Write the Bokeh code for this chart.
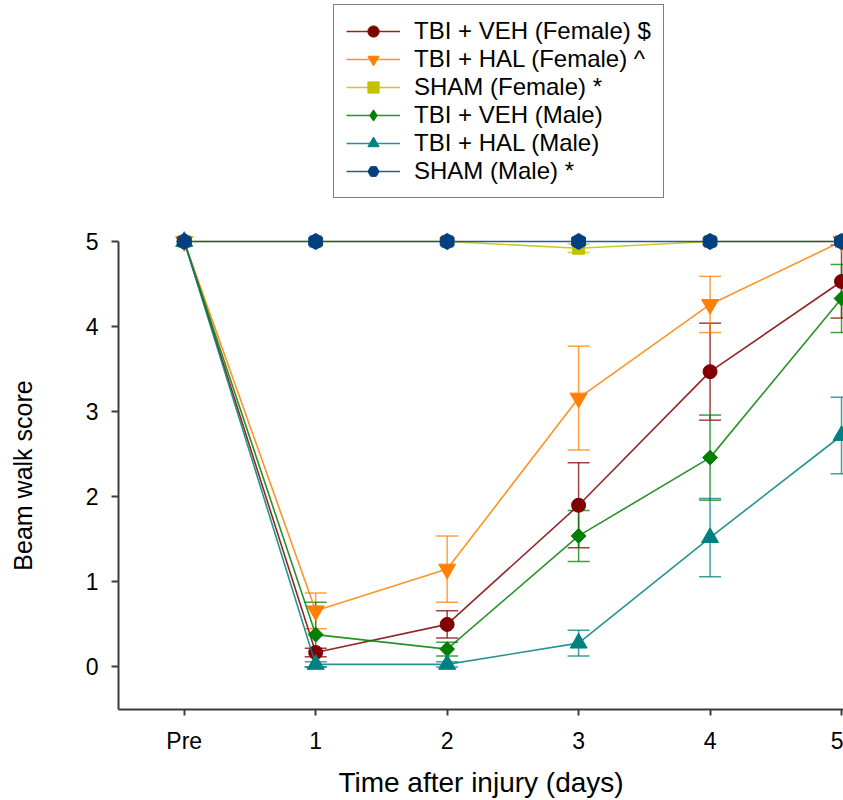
import numpy as np
from bokeh.plotting import figure
from bokeh.layouts import row
from bokeh.models import (Range1d, FixedTicker, Whisker, TeeHead, ColumnDataSource,
                          Legend, LegendItem)
from bokeh.core.properties import value
from bokeh.embed import file_html
from bokeh.resources import INLINE

# Days after injury (0 = pre-injury baseline)
days = [0, 1, 2, 3, 4, 5]
day_labels = ["Pre", "1", "2", "3", "4", "5"]

# Mean beam walk score and SEM per group
veh_female = [5.0, 0.17, 0.50, 1.90, 3.47, 4.53]
veh_female_sem = [0.0, 0.05, 0.16, 0.50, 0.57, 0.43]

hal_female = [5.0, 0.66, 1.15, 3.16, 4.26, 5.0]
hal_female_sem = [0.0, 0.21, 0.39, 0.61, 0.33, 0.0]

sham_female = [5.0, 5.0, 5.0, 4.92, 5.0, 5.0]
sham_female_sem = [0.0, 0.0, 0.0, 0.05, 0.0, 0.0]

veh_male = [5.0, 0.38, 0.21, 1.54, 2.46, 4.33]
veh_male_sem = [0.0, 0.38, 0.08, 0.30, 0.50, 0.40]

hal_male = [5.0, 0.03, 0.03, 0.28, 1.52, 2.72]
hal_male_sem = [0.0, 0.03, 0.03, 0.15, 0.46, 0.45]

sham_male = [5.0, 5.0, 5.0, 5.0, 5.0, 5.0]
sham_male_sem = [0.0, 0.0, 0.0, 0.0, 0.0, 0.0]

FONT = "Liberation Sans"
HEIGHT = 800
TITLE_STRIP = 44          # narrow strip on the left holding the y-axis title
SPINE = (-0.5, 5)         # extent of the drawn y-axis line

# label, means, sem, colour, marker, size, angle, marker used for the legend swatch
groups = [
    ("TBI + VEH (Female) $", veh_female, veh_female_sem, "#800000", "circle", 14, 0.0, None),
    ("TBI + HAL (Female) ^", hal_female, hal_female_sem, "#FF8000", "inverted_triangle", 17, 0.0, None),
    ("SHAM (Female) *", sham_female, sham_female_sem, "#C2C200", "square", 12, 0.0, None),
    ("TBI + VEH (Male)", veh_male, veh_male_sem, "#008000", "square", 10.5, np.pi / 4, "diamond"),
    ("TBI + HAL (Male)", hal_male, hal_male_sem, "#008080", "triangle", 17, 0.0, None),
    ("SHAM (Male) *", sham_male, sham_male_sem, "#003F80", "hex", 16, np.pi / 2, None),
]

p = figure(width=843 - TITLE_STRIP, height=HEIGHT,
           x_range=Range1d(-0.5, 5.015), y_range=Range1d(-0.5, 7.832),
           output_backend="svg", toolbar_location=None,
           min_border_left=118 - TITLE_STRIP, min_border_right=0,
           min_border_top=0, min_border_bottom=91)

p.outline_line_color = None
p.xgrid.grid_line_color = None
p.ygrid.grid_line_color = None
p.background_fill_color = "white"
p.border_fill_color = "white"

items = []
for label, vals, sem, color, marker, size, angle, swatch in groups:
    keep = [i for i, e in enumerate(sem) if e > 0]
    if keep:
        err_src = ColumnDataSource(dict(
            x=[days[i] for i in keep],
            upper=[vals[i] + sem[i] for i in keep],
            lower=[vals[i] - sem[i] for i in keep],
        ))
        head = dict(size=22, line_color=color, line_width=1.5, line_alpha=0.75)
        p.add_layout(Whisker(source=err_src, base="x", upper="upper", lower="lower",
                             dimension="height", line_color=color, line_width=1.5,
                             line_alpha=0.75,
                             upper_head=TeeHead(**head), lower_head=TeeHead(**head)))
    src = ColumnDataSource(dict(x=days, y=vals))
    ln = p.line("x", "y", source=src, line_color=color, line_width=1.6, line_alpha=0.85)
    legend_renderers = [ln]
    if swatch is not None:
        # unrotated swatch marker for the legend, hidden under the real markers
        sw = p.scatter("x", "y", source=src, marker=swatch, size=size * 1.3,
                       fill_color=color, line_color=color, line_width=1)
        legend_renderers.append(sw)
    sc = p.scatter("x", "y", source=src, marker=marker, size=size, angle=angle,
                   fill_color=color, line_color=color, line_width=1)
    if swatch is None:
        legend_renderers.append(sc)
    items.append(LegendItem(label=label, renderers=legend_renderers))

legend = Legend(items=items, location=(215, 511), margin=0, padding=12,
                spacing=0, glyph_width=54, glyph_height=28, label_height=28,
                label_standoff=14,
                label_text_font=FONT, label_text_font_size="24px",
                label_text_color="black",
                border_line_color="black", border_line_width=1.5,
                background_fill_color="white", background_fill_alpha=1.0)
p.add_layout(legend, "center")

axis_color = "#3C3C3C"
for ax in (p.xaxis[0], p.yaxis[0]):
    ax.axis_line_color = axis_color
    ax.axis_line_width = 2
    ax.major_tick_line_color = axis_color
    ax.major_tick_line_width = 2
    ax.major_tick_in = 0
    ax.minor_tick_line_color = None
    ax.major_label_text_font = FONT
    ax.major_label_text_font_size = "23px"
    ax.major_label_text_color = "black"
    ax.axis_label_text_font = FONT
    ax.axis_label_text_font_style = "normal"
    ax.axis_label_text_color = "black"

p.xaxis.ticker = FixedTicker(ticks=days)
p.xaxis.major_label_overrides = {d: lab for d, lab in zip(days, day_labels)}
p.xaxis.major_tick_out = 6
p.xaxis.major_label_standoff = 12
p.xaxis.axis_label = "Time after injury (days)"
p.xaxis.axis_label_text_font_size = "28px"
p.xaxis.axis_label_standoff = 10

p.yaxis.ticker = FixedTicker(ticks=[0, 1, 2, 3, 4, 5])
p.yaxis.bounds = SPINE
p.yaxis.major_tick_out = 7
p.yaxis.major_label_standoff = 13

# y-axis title strip; shares the y range so the title centres on the drawn spine
t = figure(width=TITLE_STRIP, height=HEIGHT,
           x_range=Range1d(0, TITLE_STRIP), y_range=p.y_range,
           output_backend="svg", toolbar_location=None,
           min_border=0, outline_line_color=None)
t.axis.visible = False
t.grid.visible = False
t.text(x=[TITLE_STRIP / 2], y=[sum(SPINE) / 2], text=["Beam walk score"],
       angle=np.pi / 2, text_align="center", text_baseline="middle",
       text_font=value(FONT), text_font_size="25px", text_color="black")

layout = row(t, p, spacing=0)
open("out.html", "w").write(file_html(layout, INLINE))
